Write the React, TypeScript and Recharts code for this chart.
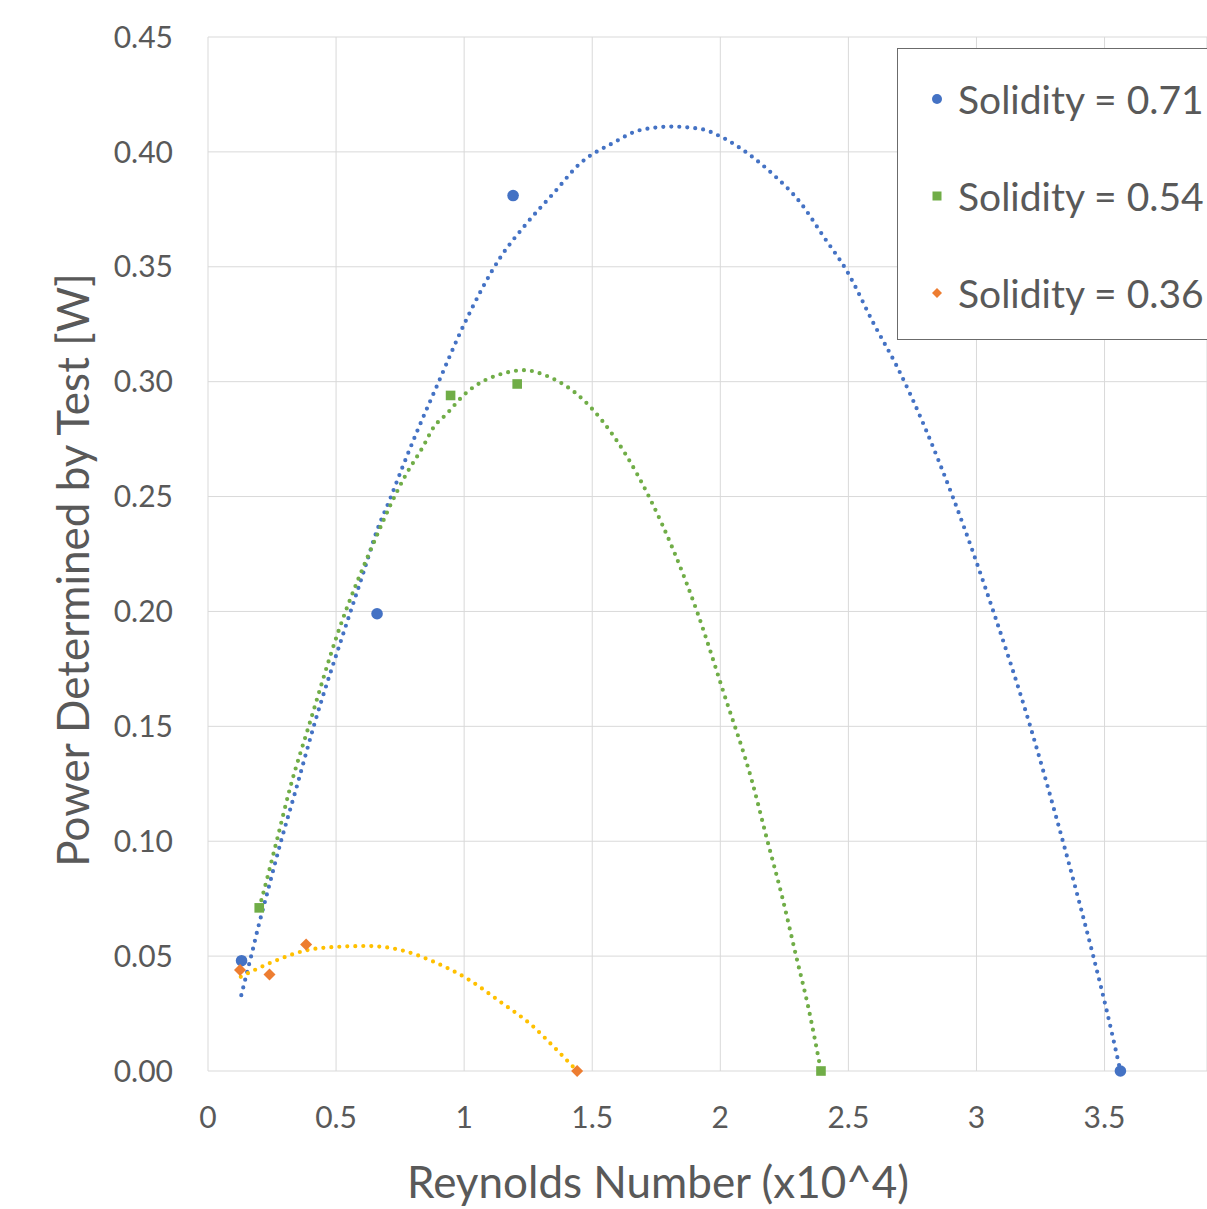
import React from 'react';
import { ComposedChart, Line, Scatter, XAxis, YAxis, CartesianGrid, Legend, Label } from 'recharts';

// axis ticks
const xTicks = [0, 0.5, 1, 1.5, 2, 2.5, 3, 3.5];
const yTicks = [0, 0.05, 0.1, 0.15, 0.2, 0.25, 0.3, 0.35, 0.4, 0.45];

const seriesNames = ['Solidity = 0.71', 'Solidity = 0.54', 'Solidity = 0.36'];

// measured points (Reynolds number x10^4, power W)
const solidity71 = [
  { x: 0.131, y: 0.048 },
  { x: 0.66, y: 0.199 },
  { x: 1.191, y: 0.381 },
  { x: 3.562, y: 0 },
];
const solidity54 = [
  { x: 0.2, y: 0.071 },
  { x: 0.947, y: 0.294 },
  { x: 1.207, y: 0.299 },
  { x: 2.393, y: 0 },
];
const solidity36 = [
  { x: 0.125, y: 0.044 },
  { x: 0.24, y: 0.042 },
  { x: 0.383, y: 0.055 },
  { x: 1.441, y: 0 },
];

// poly trendlines
const trend71 = [
  { x: 0.13, y: 0.033 }, { x: 0.148, y: 0.041 }, { x: 0.173, y: 0.052 }, { x: 0.197, y: 0.063 },
  { x: 0.223, y: 0.074 }, { x: 0.285, y: 0.1 }, { x: 0.342, y: 0.122 }, { x: 0.418, y: 0.152 },
  { x: 0.533, y: 0.192 }, { x: 0.607, y: 0.217 }, { x: 0.659, y: 0.235 }, { x: 0.711, y: 0.249 },
  { x: 0.76, y: 0.263 }, { x: 0.815, y: 0.278 }, { x: 0.893, y: 0.298 }, { x: 1.0, y: 0.325 },
  { x: 1.141, y: 0.354 }, { x: 1.245, y: 0.369 }, { x: 1.349, y: 0.382 }, { x: 1.453, y: 0.395 },
  { x: 1.583, y: 0.404 }, { x: 1.688, y: 0.4095 }, { x: 1.811, y: 0.411 }, { x: 1.922, y: 0.41 },
  { x: 2.013, y: 0.406 }, { x: 2.111, y: 0.399 }, { x: 2.208, y: 0.39 }, { x: 2.312, y: 0.378 },
  { x: 2.404, y: 0.363 }, { x: 2.495, y: 0.348 }, { x: 2.6, y: 0.325 }, { x: 2.69, y: 0.3065 },
  { x: 2.907, y: 0.25 }, { x: 3.066, y: 0.2 }, { x: 3.21, y: 0.15 }, { x: 3.315, y: 0.109 },
  { x: 3.406, y: 0.0715 }, { x: 3.456, y: 0.05 }, { x: 3.508, y: 0.0265 }, { x: 3.562, y: 0 },
];
const trend54 = [
  { x: 0.2, y: 0.071 }, { x: 0.21, y: 0.075 }, { x: 0.268, y: 0.1 }, { x: 0.32, y: 0.123 },
  { x: 0.396, y: 0.151 }, { x: 0.505, y: 0.19 }, { x: 0.659, y: 0.233 }, { x: 0.711, y: 0.246 },
  { x: 0.77, y: 0.259 }, { x: 0.841, y: 0.272 }, { x: 0.88, y: 0.28 }, { x: 0.932, y: 0.286 },
  { x: 0.997, y: 0.294 }, { x: 1.167, y: 0.304 }, { x: 1.234, y: 0.305 }, { x: 1.323, y: 0.3025 },
  { x: 1.466, y: 0.292 }, { x: 1.539, y: 0.283 }, { x: 1.728, y: 0.2485 }, { x: 1.909, y: 0.2 },
  { x: 2.015, y: 0.164 }, { x: 2.124, y: 0.126 }, { x: 2.182, y: 0.101 }, { x: 2.241, y: 0.076 },
  { x: 2.296, y: 0.05 }, { x: 2.343, y: 0.028 }, { x: 2.393, y: 0 },
];
const trend36 = [
  { x: 0.128, y: 0.041 }, { x: 0.255, y: 0.0476 }, { x: 0.392, y: 0.0527 }, { x: 0.516, y: 0.0541 },
  { x: 0.62, y: 0.0544 }, { x: 0.75, y: 0.0527 }, { x: 0.88, y: 0.0476 }, { x: 1.01, y: 0.0403 },
  { x: 1.14, y: 0.0302 }, { x: 1.27, y: 0.0193 }, { x: 1.349, y: 0.0106 }, { x: 1.441, y: 0 },
];

const BLUE = '#4472C4';
const GREEN = '#70AD47';
const ORANGE = '#ED7D31';
const YELLOW = '#FFC000';
const TEXT = '#595959';
const FONT = 'Lato, "Open Sans", sans-serif';

const CircleMark = (props: any) => <circle cx={props.cx} cy={props.cy} r={5.8} fill={BLUE} />;
const SquareMark = (props: any) => (
  <rect x={props.cx - 4.8} y={props.cy - 4.8} width={9.6} height={9.6} fill={GREEN} />
);
const DiamondMark = (props: any) => {
  const { cx, cy } = props;
  return <polygon points={`${cx},${cy - 6} ${cx + 6},${cy} ${cx},${cy + 6} ${cx - 6},${cy}`} fill={ORANGE} />;
};

const legendMarks = [
  <circle cx={8} cy={8} r={5} fill={BLUE} />,
  <rect x={3.5} y={3.5} width={9} height={9} fill={GREEN} />,
  <polygon points="8,3 13,8 8,13 3,8" fill={ORANGE} />,
];

const renderLegend = () => (
  <div
    style={{
      position: 'relative',
      width: 340,
      height: 292,
      boxSizing: 'border-box',
      border: '1.5px solid #6b6b6b',
      background: '#fff',
      fontFamily: FONT,
    }}
  >
    {seriesNames.map((name, i) => (
      <div key={name} style={{ position: 'absolute', left: 0, top: 26 + i * 97, height: 48, display: 'flex', alignItems: 'center' }}>
        <svg width={16} height={16} style={{ marginLeft: 31 }}>{legendMarks[i]}</svg>
        <span style={{ marginLeft: 13, fontSize: 39, color: TEXT, whiteSpace: 'nowrap', lineHeight: '48px' }}>{name}</span>
      </div>
    ))}
  </div>
);

const dotted = { strokeDasharray: '0 8', strokeLinecap: 'round' as const, strokeWidth: 4.2 };

export default function App() {
  return (
    <div style={{ position: 'absolute', left: 0, top: 0, width: 1207, height: 1209, overflow: 'hidden', background: '#fff' }}>
      <ComposedChart width={1207} height={1209} margin={{ top: 37, right: 0, bottom: 0, left: 0 }}>
        <CartesianGrid stroke="#d9d9d9" strokeWidth={1} />
        <XAxis
          type="number"
          dataKey="x"
          domain={[0, 3.9]}
          ticks={xTicks}
          allowDataOverflow
          height={138}
          axisLine={false}
          tickLine={false}
          tickSize={0}
          tickMargin={36}
          tick={{ fill: TEXT, fontSize: 30, fontFamily: FONT }}
        >
          <Label
            content={() => (
              <text x={658} y={1198} textAnchor="middle" fill={TEXT} fontSize={44} fontFamily={FONT}>
                Reynolds Number (x10^4)
              </text>
            )}
          />
        </XAxis>
        <YAxis
          type="number"
          dataKey="y"
          domain={[0, 0.45]}
          ticks={yTicks}
          width={208}
          axisLine={false}
          tickLine={false}
          tickSize={0}
          tickMargin={35}
          tickFormatter={(v: number) => v.toFixed(2)}
          tick={{ fill: TEXT, fontSize: 30, fontFamily: FONT }}
        >
          <Label
            content={() => (
              <text
                x={89}
                y={570}
                transform="rotate(-90 89 570)"
                textAnchor="middle"
                fill={TEXT}
                fontSize={44}
                fontFamily={FONT}
              >
                Power Determined by Test [W]
              </text>
            )}
          />
        </YAxis>
        <Legend
          verticalAlign="middle"
          layout="horizontal"
          content={renderLegend}
          wrapperStyle={{ left: 897, top: 48, width: 340, height: 292 }}
        />

        <Line data={trend71} dataKey="y" type="monotone" stroke={BLUE} {...dotted} dot={false} activeDot={false} legendType="none" isAnimationActive={false} />
        <Line data={trend54} dataKey="y" type="monotone" stroke={GREEN} {...dotted} dot={false} activeDot={false} legendType="none" isAnimationActive={false} />
        <Line data={trend36} dataKey="y" type="monotone" stroke={YELLOW} {...dotted} dot={false} activeDot={false} legendType="none" isAnimationActive={false} />

        <Scatter name={seriesNames[0]} data={solidity71} dataKey="y" shape={CircleMark} isAnimationActive={false} />
        <Scatter name={seriesNames[1]} data={solidity54} dataKey="y" shape={SquareMark} isAnimationActive={false} />
        <Scatter name={seriesNames[2]} data={solidity36} dataKey="y" shape={DiamondMark} isAnimationActive={false} />
      </ComposedChart>
    </div>
  );
}
